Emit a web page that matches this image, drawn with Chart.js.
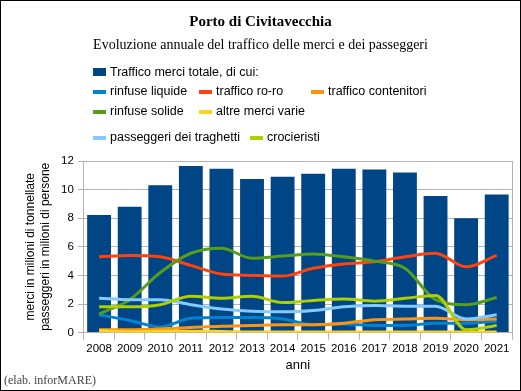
<!DOCTYPE html>
<html>
<head>
<meta charset="utf-8">
<script src="https://cdn.jsdelivr.net/npm/chart.js@4"></script>
<style>
  body { margin: 0; background: #fff; }
  #wrap { position: relative; width: 521px; height: 391px; overflow: hidden; background: #fff; }
  #frame { position: absolute; left: 0; top: 0; width: 519px; height: 389px; border: 1px solid #000; pointer-events: none; }
  canvas { position: absolute; left: 0; top: 0; }
  .title { position: absolute; left: 0; width: 521px; text-align: center; font-family: "Liberation Serif", serif; color: #000; }
  #t1 { top: 13px; font-size: 15px; font-weight: bold; }
  #t2 { top: 37px; font-size: 14px; }
  .leg { position: absolute; font-family: "Liberation Sans", Arial, sans-serif; font-size: 12.5px; color: #000; white-space: nowrap; line-height: 14px; }
  .leg i { position: absolute; left: 0; display: block; }
  .leg span { position: absolute; left: 17px; top: 0; }
  #credit { position: absolute; left: 4px; top: 373px; font-family: "Liberation Serif", serif; font-size: 12px; color: #444; }
</style>
</head>
<body>
<div id="wrap">
  <canvas id="chart" width="521" height="391"></canvas>
  <div class="title" id="t1">Porto di Civitavecchia</div>
  <div class="title" id="t2">Evoluzione annuale del traffico delle merci e dei passeggeri</div>
  <div id="legend"></div>
  <div id="credit">(elab. inforMARE)</div>
  <div id="frame"></div>
</div>
<script>
const years = ['2008','2009','2010','2011','2012','2013','2014','2015','2016','2017','2018','2019','2020','2021'];

const merciTotale    = [8.23, 8.8, 10.3, 11.65, 11.45, 10.75, 10.9, 11.1, 11.45, 11.4, 11.2, 9.55, 8.0, 9.65];
const rinfuseLiquide = [1.25, 0.85, 0.4, 1.0, 1.05, 1.05, 0.95, 0.55, 0.6, 0.5, 0.5, 0.65, 0.65, 0.8];
const trafficoRoro   = [5.3, 5.4, 5.3, 4.7, 4.1, 4.0, 3.95, 4.5, 4.8, 4.95, 5.3, 5.55, 4.6, 5.4];
const contenitori    = [0.2, 0.2, 0.25, 0.35, 0.45, 0.5, 0.55, 0.55, 0.65, 0.9, 0.95, 1.0, 0.9, 0.95];
const rinfuseSolide  = [1.3, 2.3, 4.2, 5.55, 5.9, 5.2, 5.35, 5.5, 5.3, 5.0, 4.5, 2.3, 1.95, 2.45];
const altreMerci     = [0.15, 0.05, 0.1, 0.1, 0.08, 0.05, 0.05, 0.05, 0.05, 0.05, 0.05, 0.05, 0.05, 0.05];
const traghetti      = [2.4, 2.3, 2.3, 1.95, 1.65, 1.5, 1.45, 1.55, 1.8, 1.9, 1.85, 1.85, 0.95, 1.25];
const crocieristi    = [1.8, 1.8, 1.95, 2.55, 2.4, 2.55, 2.1, 2.25, 2.35, 2.2, 2.4, 2.6, 0.2, 0.5];

const lineSeries = [
  { label: 'rinfuse liquide', data: rinfuseLiquide, color: '#0084d1' },
  { label: 'traffico ro-ro', data: trafficoRoro, color: '#ff420e' },
  { label: 'traffico contenitori', data: contenitori, color: '#ff950e' },
  { label: 'rinfuse solide', data: rinfuseSolide, color: '#579d1c' },
  { label: 'altre merci varie', data: altreMerci, color: '#ffd320' },
  { label: 'passeggeri dei traghetti', data: traghetti, color: '#83caff' },
  { label: 'crocieristi', data: crocieristi, color: '#aecf00' },
];

// legend (html, laid out like the original)
const legendSlots = [
  { x: 93, y: 65, bar: true },
  { x: 93, y: 84 }, { x: 199, y: 84 }, { x: 311, y: 84 },
  { x: 93, y: 104 }, { x: 199, y: 104 },
  { x: 93, y: 130 }, { x: 250, y: 130 },
];
const legendItems = [{ label: 'Traffico merci totale, di cui:', color: '#004586' }].concat(lineSeries);
document.getElementById('legend').innerHTML = legendItems.map((it, i) => {
  const s = legendSlots[i];
  const mark = s.bar
    ? `<i style="top:3px;width:13px;height:8px;background:${it.color}"></i>`
    : `<i style="top:6px;width:13px;height:4px;background:${it.color}"></i>`;
  return `<div class="leg" style="left:${s.x}px;top:${s.y}px">${mark}<span>${it.label}</span></div>`;
}).join('');

const gridColor = '#b3b3b3';
const tickFont = { family: '"Liberation Sans", Arial, sans-serif', size: 11.5 };

new Chart(document.getElementById('chart'), {
  type: 'bar',
  data: {
    labels: years,
    datasets: [
      {
        label: 'Traffico merci totale, di cui:',
        data: merciTotale,
        backgroundColor: '#004586',
        barPercentage: 0.78,
        categoryPercentage: 1,
        order: 10,
      },
      ...lineSeries.map((s, i) => ({
        type: 'line',
        label: s.label,
        data: s.data,
        borderColor: s.color,
        backgroundColor: s.color,
        borderWidth: 3,
        pointRadius: 0,
        tension: 0.4,
        cubicInterpolationMode: 'monotone',
        order: 8 - i,
      })),
    ],
  },
  options: {
    responsive: false,
    animation: false,
    layout: { padding: { top: 161, left: 19, right: 9, bottom: 14 } },
    plugins: { legend: { display: false }, tooltip: { enabled: false } },
    scales: {
      x: {
        offset: true,
        grid: { offset: true, drawOnChartArea: false, color: gridColor, tickLength: 7 },
        border: { color: gridColor },
        ticks: { color: '#000', font: tickFont, maxRotation: 0, autoSkip: false, padding: 2 },
        title: { display: true, text: 'anni', color: '#000', font: { family: tickFont.family, size: 13 }, padding: { top: 0 } },
      },
      y: {
        min: 0, max: 12,
        ticks: { stepSize: 2, color: '#000', font: tickFont, padding: 4 },
        grid: { color: gridColor, tickLength: 6 },
        border: { color: gridColor },
        title: {
          display: true,
          text: ['merci in milioni di tonnellate', 'passeggeri in milioni di persone'],
          color: '#000',
          font: { family: tickFont.family, size: 12, lineHeight: 1.25 },
          padding: { bottom: 4 },
        },
      },
      y2: {
        position: 'right',
        min: 0, max: 12,
        ticks: { display: false },
        grid: { drawOnChartArea: false, drawTicks: false },
        border: { color: gridColor },
      },
    },
  },
});
</script>
</body>
</html>
